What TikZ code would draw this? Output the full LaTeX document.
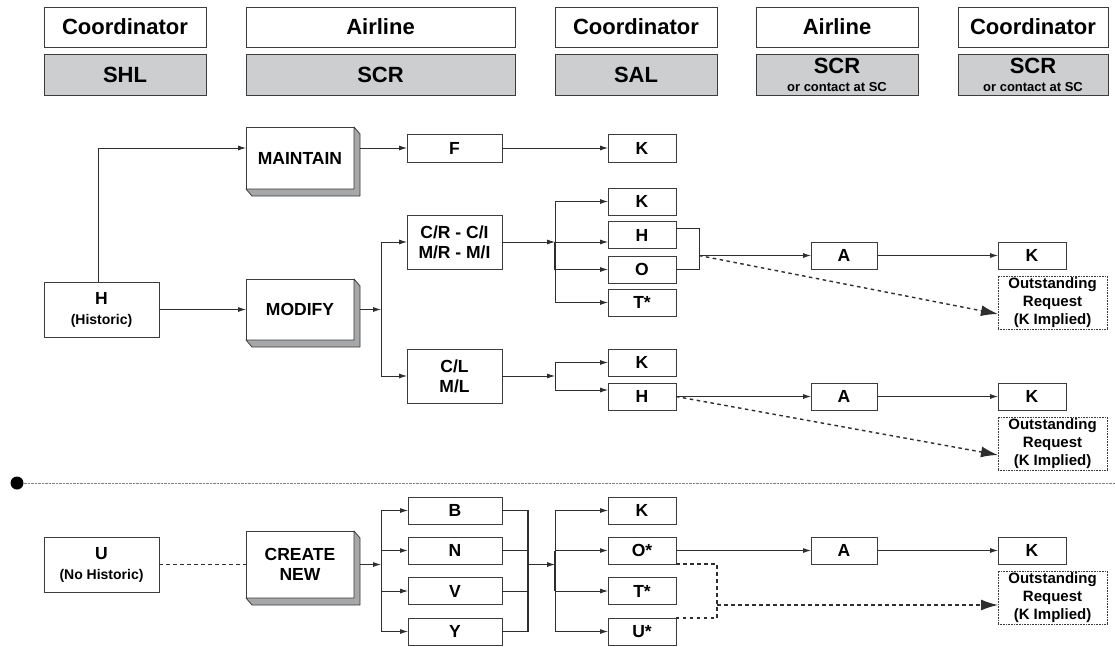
\documentclass[tikz,border=0pt]{standalone}
\usepackage{fontspec}
\setmainfont{Liberation Sans}
\usetikzlibrary{arrows.meta,calc}
\definecolor{boxline}{HTML}{3C3C3C}
\definecolor{headfill}{HTML}{CDCECF}
\definecolor{sidefill}{HTML}{A6A7A9}
\definecolor{wire}{HTML}{2E2E2E}
\begin{document}
\begin{tikzpicture}[x=1pt,y=-1pt,
  every node/.style={inner sep=0pt,outer sep=0pt},
  sz/.style 2 args={minimum width=#1pt,minimum height=#2pt},
  hbox/.style={draw=boxline,line width=0.8pt,fill=white,align=center,
    font=\fontsize{22}{24}\selectfont\bfseries},
  hboxg/.style={hbox,fill=headfill},
  lbox/.style={draw=boxline,line width=0.8pt,fill=white,align=center,
    font=\fontsize{17.5}{20}\selectfont\bfseries},
  obox/.style={draw=boxline,line width=0.6pt,dash pattern=on 0.8pt off 0.8pt,
    fill=white,align=center,font=\fontsize{15}{18}\selectfont\bfseries},
  side/.style={draw=boxline,line width=0.8pt,fill=sidefill,line join=round},
  ln/.style={draw=wire,line width=0.8pt},
  arr/.style={-{Latex[length=8pt,width=5pt]}},
  bigarr/.style={-{Latex[length=17pt,width=11pt]}},
  dsh/.style={draw=wire,line width=1.4pt,dash pattern=on 3.5pt off 3.5pt},
  sepline/.style={draw=gray,line width=0.6pt,dash pattern=on 0.7pt off 0.7pt}
]
\useasboundingbox (0,0) rectangle (1115,647);
\fill[white] (0,0) rectangle (1115,647);

% ---------- column headers ----------
\node[hbox, sz={162}{40}] (hc1) at (125,27) {Coordinator};
\node[hboxg,sz={162}{41}] (hs1) at (125,74.5) {SHL};
\node[hbox, sz={269}{40}] (ha1) at (380.5,27) {Airline};
\node[hboxg,sz={269}{41}] (hs2) at (380.5,74.5) {SCR};
\node[hbox, sz={162}{40}] (hc2) at (636,27) {Coordinator};
\node[hboxg,sz={162}{41}] (hs3) at (636,74.5) {SAL};
\node[hbox, sz={162}{40}] (ha2) at (837,27) {Airline};
\node[hboxg,sz={162}{41}] (hs4) at (837,74.5)
  {SCR\\[-6pt]{\fontsize{13}{13}\selectfont or contact at SC}};
\node[hbox, sz={150}{40}] (hc3) at (1033,27) {Coordinator};
\node[hboxg,sz={150}{41}] (hs5) at (1033,74.5)
  {SCR\\[-6pt]{\fontsize{13}{13}\selectfont or contact at SC}};

% ---------- historic branch ----------
\node[lbox,sz={115}{55}] (H) at (101.5,309.5) {H\\{\fontsize{14}{16}\selectfont (Historic)}};
\node[lbox,sz={108}{62}] (MAINT) at (300,158) {MAINTAIN};
\node[lbox,sz={108}{61}] (MOD) at (300,309.5) {MODIFY};
\foreach \b in {MAINT,MOD}{
  \filldraw[side] (\b.north east) -- ++(6,7) -- ($(\b.south east)+(6,7)$)
    -- ($(\b.south west)+(6,7)$) -- (\b.south west) -- (\b.south east) -- cycle;
}
\node[lbox,sz={95}{28}] (F) at (454.5,148) {F};
\node[lbox,sz={68}{28}] (K1) at (642,148) {K};
\node[lbox,sz={95}{54}] (CR) at (454.5,242) {C/R - C/I\\M/R - M/I};
\node[lbox,sz={95}{54}] (CL) at (454.5,376) {C/L\\M/L};

\node[lbox,sz={68}{27}] (K2) at (642,201.5) {K};
\node[lbox,sz={68}{27}] (H1) at (642,235) {H};
\node[lbox,sz={68}{27}] (O1) at (642,269.5) {O};
\node[lbox,sz={68}{27}] (T1) at (642,302.5) {T*};
\node[lbox,sz={66}{27}] (A1) at (844,255.5) {A};
\node[lbox,sz={68}{27}] (K5) at (1032,255.5) {K};
\node[obox,sz={109}{53}] (OR1) at (1052.5,302.5) {Outstanding\\Request\\(K Implied)};

\node[lbox,sz={68}{27}] (K3) at (642,362.5) {K};
\node[lbox,sz={68}{27}] (H2) at (642,396.5) {H};
\node[lbox,sz={66}{27}] (A2) at (844,396.5) {A};
\node[lbox,sz={68}{27}] (K6) at (1032,396.5) {K};
\node[obox,sz={109}{53}] (OR2) at (1052.5,443.5) {Outstanding\\Request\\(K Implied)};

\coordinate (j1) at (381,309.5);
\coordinate (j2) at (555,242);
\coordinate (b1) at (699,255.5);
\coordinate (j3) at (555,376);
\coordinate (j3b) at (555,390);

\draw[ln,arr] ([xshift=-3.5pt]H.north) |- (MAINT.west |- F.west);
\draw[ln,arr] ([xshift=6pt]MAINT.east |- F.west) -- (F.west);
\draw[ln,arr] (F) -- (K1);
\draw[ln,arr] (H) -- (MOD);
\draw[ln,arr] ([xshift=6pt]MOD.east) -- (j1);
\draw[ln] (j1 |- CR) -- (j1 |- CL);
\draw[ln,arr] (j1 |- CR) -- (CR);
\draw[ln,arr] (j1 |- CL) -- (CL);

\draw[ln,arr] (CR) -- (j2);
\draw[ln] (j2 |- K2) -- (j2 |- T1);
\draw[ln,line width=1.5pt] (j2) -- (j2 |- O1);
\draw[ln,arr] (j2 |- K2) -- (K2);
\draw[ln,arr] (j2) -- (H1.west |- j2);
\draw[ln,arr] (j2 |- O1) -- (O1);
\draw[ln,arr] (j2 |- T1) -- (T1);
\draw[ln] ([yshift=7pt]H1.east) -| (b1) |- (O1.east);
\draw[ln,line width=1.5pt] (O1.east) -- (b1 |- O1.east);
\draw[ln,arr] (b1) -- (A1);
\draw[ln,arr] (A1) -- (K5);
\draw[dsh,bigarr] (b1) -- ([yshift=-11.5pt]OR1.west);

\draw[ln,arr] (CL) -- (j3);
\draw[ln] (j3 |- K3) -- (j3b);
\draw[ln,arr] (j3 |- K3) -- (K3);
\draw[ln,arr] (j3b) -- (H2.west |- j3b);
\draw[ln,arr] (H2) -- (A2);
\draw[ln,arr] (A2) -- (K6);
\draw[dsh,bigarr] (H2.east) -- ([yshift=-11.5pt]OR2.west);

% ---------- separator ----------
\node[circle,fill=black,minimum size=13pt] (dot) at (17,483) {};
\coordinate (sepend) at (1115,483);
\draw[sepline] (dot) -- (sepend);

% ---------- no-historic branch ----------
\node[lbox,sz={115}{55}] (U) at (101.5,564.5) {U\\{\fontsize{14}{16}\selectfont (No Historic)}};
\node[lbox,sz={108}{67}] (CN) at (300,564.5) {CREATE\\NEW};
\filldraw[side] (CN.north east) -- ++(6,7) -- ($(CN.south east)+(6,7)$)
  -- ($(CN.south west)+(6,7)$) -- (CN.south west) -- (CN.south east) -- cycle;

\node[lbox,sz={94}{27}] (B) at (455,510.5) {B};
\node[lbox,sz={94}{27}] (N) at (455,550.5) {N};
\node[lbox,sz={94}{27}] (V) at (455,591) {V};
\node[lbox,sz={94}{27}] (Y) at (455,631.5) {Y};
\node[lbox,sz={68}{27}] (K4) at (642,510.5) {K};
\node[lbox,sz={68}{27}] (Os) at (642,550.5) {O*};
\node[lbox,sz={68}{27}] (Ts) at (642,591) {T*};
\node[lbox,sz={68}{27}] (Us) at (642,631.5) {U*};
\node[lbox,sz={66}{27}] (A3) at (844,550.5) {A};
\node[lbox,sz={68}{27}] (K7) at (1032,550.5) {K};
\node[obox,sz={109}{53}] (OR3) at (1052.5,597.5) {Outstanding\\Request\\(K Implied)};

\coordinate (j4) at (381,564.5);
\coordinate (c1) at (528,564.5);
\coordinate (j5) at (555,564.5);
\coordinate (b2) at (717,605);

\draw[dsh] (U) -- (CN);
\draw[ln,arr] ([xshift=6pt]CN.east) -- (j4);
\draw[ln] (j4 |- B) -- (j4 |- Y);
\draw[ln,arr] (j4 |- B) -- (B);
\draw[ln,arr,line width=1.2pt] (j4 |- N) -- (N);
\draw[ln,arr] (j4 |- V) -- (V);
\draw[ln,arr] (j4 |- Y) -- (Y);
\draw[ln,line width=1.2pt] (B.east) -| (c1 |- Y) -- (Y.east);
\draw[ln] (N) -- (c1 |- N);
\draw[ln] (V) -- (c1 |- V);
\draw[ln,arr] (c1) -- (j5);
\draw[ln] (j5 |- K4) -- (j5 |- Us);
\draw[ln,line width=1.5pt] (j5 |- Os) -- (j5 |- Ts);
\draw[ln,arr] (j5 |- K4) -- (K4);
\draw[ln,arr,line width=1.2pt] (j5 |- Os) -- (Os);
\draw[ln,arr] (j5 |- Ts) -- (Ts);
\draw[ln,arr] (j5 |- Us) -- (Us);
\draw[ln,arr] (Os) -- (A3);
\draw[ln,arr] (A3) -- (K7);
\draw[dsh] (Os.south east) -| (b2) |- (Us.north east);
\draw[dsh,bigarr] (b2) -- (b2 -| OR3.west);
\end{tikzpicture}
\end{document}
